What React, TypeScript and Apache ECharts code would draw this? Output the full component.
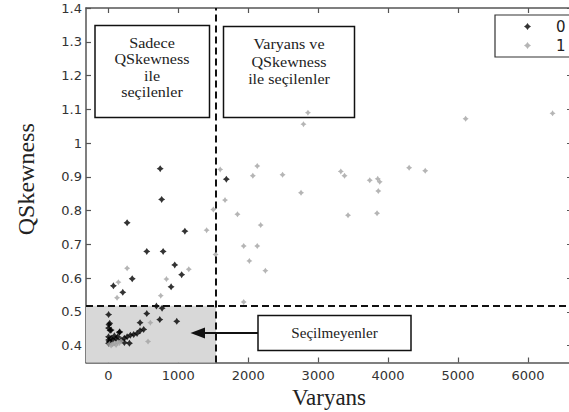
import React, { useEffect, useRef } from "react";
import * as echarts from "echarts";

// class "0" (black diamonds)
const class0Varyans = [
  741, 762, 268, 1094, 549, 783, 949, 1048, 341, 72, 206, 897, 1687,
  687, 768, 735, 549, 978, 453, 3,
  8, 2, 24, 157, 505, 453, 410, 362, 315, 268, 229, 181, 133, 86, 2, 4, 14, 39, 301, 229, 62, 3, 19, 39, 162, 110,
];
const class0QSkewness = [
  0.924, 0.833, 0.764, 0.739, 0.679, 0.679, 0.639, 0.61, 0.598, 0.577, 0.558, 0.574, 0.893,
  0.517, 0.511, 0.477, 0.495, 0.472, 0.468, 0.492,
  0.462, 0.452, 0.445, 0.439, 0.448, 0.444, 0.436, 0.433, 0.431, 0.426, 0.422, 0.417, 0.426, 0.429, 0.426, 0.417, 0.412, 0.422, 0.407, 0.409, 0.417, 0.407, 0.466, 0.446, 0.441, 0.42,
];

// class "1" (grey dots)
const class1Varyans = [
  268, 143, 124, 830, 1150, 1405, 1501, 749, 1533, 600, 567,
  1599, 1668, 1846, 1935, 2016, 2066, 2129, 2129, 2178, 2245, 2491, 2755, 2790, 2854,
  3324, 3377, 3427, 3738, 3852, 3880, 3860, 3842, 4301, 4531, 5109, 6352, 1935,
  86, 133, 181, 110, 39, 14, 60, 160,
];
const class1QSkewness = [
  0.629, 0.588, 0.542, 0.597, 0.626, 0.742, 0.803, 0.548, 0.67, 0.468, 0.412,
  0.922, 0.831, 0.789, 0.695, 0.651, 0.903, 0.932, 0.695, 0.757, 0.622, 0.906, 0.853, 1.056, 1.09,
  0.916, 0.903, 0.786, 0.89, 0.894, 0.885, 0.858, 0.792, 0.927, 0.918, 1.072, 1.088, 0.529,
  0.407, 0.41, 0.413, 0.402, 0.4, 0.405, 0.404, 0.408,
];

const xTicks = [0, 1000, 2000, 3000, 4000, 5000, 6000];
const yTicks = [0.4, 0.5, 0.6, 0.7, 0.8, 0.9, 1.0, 1.1, 1.2, 1.3, 1.4];
const xRange = [-320, 6630];
const yRange = [0.35, 1.4];
const varyansThreshold = 1540;
const qskewThreshold = 0.518;

const serif = "Liberation Serif";
const sans = "DejaVu Sans";
const star = "path://M0,-10 L4,-4 L10,0 L4,4 L0,10 L-4,4 L-10,0 L-4,-4 Z";

export default function App() {
  const ref = useRef<HTMLDivElement>(null);
  useEffect(() => {
    if (!ref.current) return;
    const chart = echarts.init(ref.current, undefined, { renderer: "svg" });
    const zip = (xs: number[], ys: number[]) => xs.map((x, i) => [x, ys[i]]);
    const axisLineStyle = { color: "#555", width: 1.5 };
    const tickCommon = { inside: true, length: 5, lineStyle: { color: "#555", width: 1.2 } };
    const labelStyle = { fontFamily: sans, fontSize: 13, color: "#333" };

    const rectEl = (x: number, y: number, w: number, h: number) => ({
      type: "rect",
      shape: { x, y, width: w, height: h },
      style: { fill: "#fff", stroke: "#111", lineWidth: 1.5 },
      z: 2,
    });
    const textEl = (cx: number, ty: number, text: string, lh: number, sx: number) => ({
      type: "text",
      x: cx,
      y: ty,
      scaleX: sx,
      z: 2,
      style: {
        text,
        fontFamily: serif,
        fontSize: 14,
        fill: "#222",
        align: "center",
        verticalAlign: "top",
        lineHeight: lh,
      },
    });

    chart.setOption({
      animation: false,
      backgroundColor: "#fff",
      grid: { left: 86, top: 8, right: 28, bottom: 49.5, containLabel: false, outerBoundsMode: "none" },
      legend: {
        data: [
          { name: "0", icon: star },
          { name: "1", icon: star },
        ],
        orient: "vertical",
        left: 495,
        top: 15,
        padding: [4, 60, 4, 29],
        itemWidth: 7,
        itemHeight: 7,
        itemGap: 4,
        borderColor: "#333",
        borderWidth: 1.2,
        backgroundColor: "#fff",
        textStyle: { fontFamily: sans, fontSize: 15, color: "#222", padding: [0, 0, 0, 20] },
        z: 50,
      },
      xAxis: [
        {
          type: "value",
          min: xRange[0],
          max: xRange[1],
          position: "bottom",
          name: "Varyans",
          nameLocation: "middle",
          nameGap: 13,
          nameTextStyle: { fontFamily: serif, fontSize: 23, color: "#222" },
          axisLine: { show: true, onZero: false, lineStyle: axisLineStyle },
          axisTick: { ...tickCommon, customValues: xTicks },
          axisLabel: { ...labelStyle, margin: 6, customValues: xTicks, formatter: (v: number) => String(v) },
          splitLine: { show: false },
        },
        {
          type: "value",
          min: xRange[0],
          max: xRange[1],
          position: "top",
          axisLine: { show: true, onZero: false, lineStyle: axisLineStyle },
          axisTick: { ...tickCommon, customValues: xTicks },
          axisLabel: { show: false },
          splitLine: { show: false },
        },
      ],
      yAxis: [
        {
          type: "value",
          min: yRange[0],
          max: yRange[1],
          position: "left",
          name: "QSkewness",
          nameLocation: "middle",
          nameGap: 48,
          nameTextStyle: { fontFamily: serif, fontSize: 24, color: "#222", padding: [0, 0, 0, 12] },
          axisLine: { show: true, onZero: false, lineStyle: axisLineStyle },
          axisTick: { ...tickCommon, customValues: yTicks },
          axisLabel: {
            ...labelStyle,
            margin: 4,
            customValues: yTicks,
            formatter: (v: number) => String(+v.toFixed(1)),
          },
          splitLine: { show: false },
        },
        {
          type: "value",
          min: yRange[0],
          max: yRange[1],
          position: "right",
          axisLine: { show: true, onZero: false, lineStyle: axisLineStyle },
          axisTick: { ...tickCommon, customValues: yTicks },
          axisLabel: { show: false },
          splitLine: { show: false },
        },
      ],
      series: [
        {
          name: "regions",
          type: "line",
          data: [],
          z: 1,
          markArea: {
            silent: true,
            itemStyle: { color: "#d8d8d8" },
            data: [[{ coord: [xRange[0], yRange[0]] }, { coord: [varyansThreshold, qskewThreshold] }]],
          },
        },
        {
          name: "0",
          type: "scatter",
          data: zip(class0Varyans, class0QSkewness),
          symbol: star,
          symbolSize: 7,
          itemStyle: { color: "#000" },
          z: 3,
        },
        {
          name: "1",
          type: "scatter",
          data: zip(class1Varyans, class1QSkewness),
          symbol: star,
          symbolSize: 6,
          itemStyle: { color: "#a3a3a3" },
          z: 4,
        },
        {
          name: "thresholds",
          type: "line",
          data: [],
          z: 5,
          markLine: {
            silent: true,
            symbol: "none",
            label: { show: false },
            lineStyle: { color: "#111", width: 2, type: [7, 4] },
            data: [
              [{ coord: [varyansThreshold, yRange[0]] }, { coord: [varyansThreshold, yRange[1]] }],
              [{ coord: [xRange[0], qskewThreshold] }, { coord: [xRange[1], qskewThreshold] }],
            ],
          },
        },
      ],
      graphic: [
        rectEl(95, 25.5, 114.5, 92),
        textEl(152, 35, "Sadece\nQSkewness\nile\nseçilenler", 16.5, 1.15),
        rectEl(223.5, 26.5, 131, 91),
        textEl(289, 36, "Varyans ve\nQSkewness\nile seçilenler", 17.5, 1.15),
        rectEl(258, 315.5, 153, 35),
        textEl(334.5, 325, "Seçilmeyenler", 16, 1.08),
        {
          type: "line",
          shape: { x1: 258, y1: 333, x2: 203, y2: 333 },
          style: { stroke: "#111", lineWidth: 2 },
          z: 6,
        },
        {
          type: "polygon",
          shape: { points: [[190.5, 333], [205, 327.5], [205, 338.5]] },
          style: { fill: "#111" },
          z: 6,
        },
      ],
    });
    return () => chart.dispose();
  }, []);

  return (
    <div style={{ position: "fixed", left: 0, top: 0, width: 569, height: 412, overflow: "hidden", background: "#fff" }}>
      <div ref={ref} style={{ width: 600, height: 412 }} />
    </div>
  );
}
